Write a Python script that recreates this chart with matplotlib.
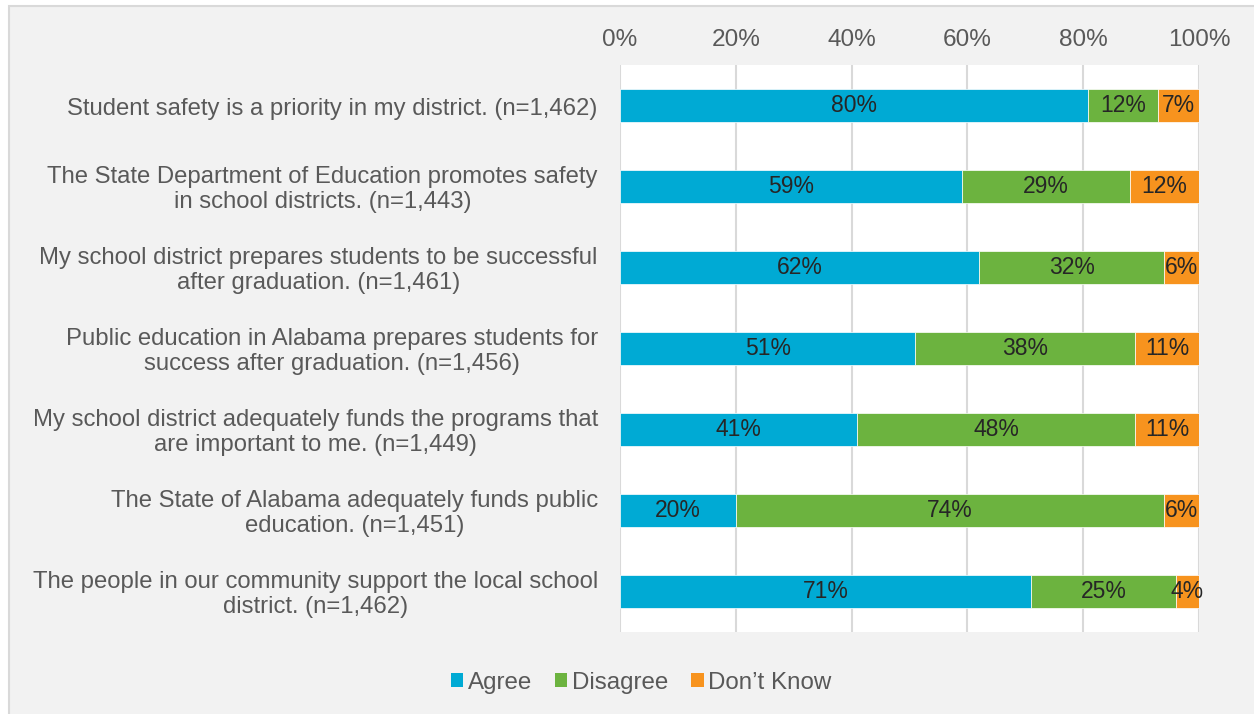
import matplotlib
matplotlib.use("Agg")
import matplotlib.pyplot as plt
import matplotlib.transforms as mtransforms
from matplotlib.patches import Rectangle, Patch
import numpy as np

categories = [
    "Student safety is a priority in my district. (n=1,462)",
    "The State Department of Education promotes safety\nin school districts. (n=1,443)",
    "My school district prepares students to be successful\nafter graduation. (n=1,461)",
    "Public education in Alabama prepares students for\nsuccess after graduation. (n=1,456)",
    "My school district adequately funds the programs that\nare important to me. (n=1,449)",
    "The State of Alabama adequately funds public\neducation. (n=1,451)",
    "The people in our community support the local school\ndistrict. (n=1,462)",
]
series_names = ["Agree", "Disagree", "Don\u2019t Know"]
agree = [80, 59, 62, 51, 41, 20, 71]
disagree = [12, 29, 32, 38, 48, 74, 25]
dont_know = [7, 12, 6, 11, 11, 6, 4]
tick_labels = ["0%", "20%", "40%", "60%", "80%", "100%"]
tick_values = [0, 20, 40, 60, 80, 100]

colors = ["#00AAD4", "#6CB33F", "#F7931E"]
text_gray = "#595959"

plt.rcParams['font.family'] = ['Liberation Sans', 'DejaVu Sans']

W, H = 1254, 714
fig = plt.figure(figsize=(W / 100, H / 100), dpi=100)
fig.patch.set_facecolor("white")
bg = Rectangle((9 / W, -0.01), 1.05, 1 - 6 / H + 0.01, transform=fig.transFigure,
               facecolor="#F2F2F2", edgecolor="#D9D9D9", linewidth=1.5, zorder=-10)
fig.add_artist(bg)

ax = fig.add_axes([620 / W, 1 - 632 / H, 579 / W, 567 / H])
ax.set_zorder(1)
ax.set_facecolor("white")

data = np.array([agree, disagree, dont_know], dtype=float)
shares = data / data.sum(axis=0) * 100
y = np.arange(len(categories))
left = np.zeros(len(categories))
fs_bar = 16.5
fs_cat = 17.2
fs_tick = 17.6
fs_leg = 17.4
for i in range(3):
    bars = ax.barh(y, shares[i], left=left, height=0.4, color=colors[i],
                   edgecolor="white", linewidth=0.5, label=series_names[i], zorder=3)
    for j, b in enumerate(bars):
        ax.text(left[j] + shares[i][j] / 2, y[j], f"{int(data[i][j])}%",
                ha="center", va="center", fontsize=fs_bar, color="#262626", zorder=4)
    left += shares[i]

ax.set_xlim(0, 100)
ax.set_ylim(len(categories) - 0.5, -0.5)
ax.set_xticks(tick_values)
ax.set_xticklabels(tick_labels)
ax.xaxis.tick_top()
ax.tick_params(axis="x", length=0, pad=10, labelsize=fs_tick, labelcolor=text_gray)
ax.set_yticks(y)
ax.set_yticklabels(categories, multialignment="center", linespacing=1.17)
ax.tick_params(axis="y", length=0, pad=16, labelsize=fs_cat, labelcolor=text_gray)
offset = mtransforms.ScaledTranslation(0, -3 / 100, fig.dpi_scale_trans)
for tk in ax.yaxis.get_major_ticks():
    tk.label1.set_verticalalignment("center")
    tk.label1.set_transform(tk.label1.get_transform() + offset)
for s in ax.spines.values():
    s.set_visible(False)
ax.grid(axis="x", color="#D9D9D9", linewidth=1.5, zorder=0)
ax.set_axisbelow(True)

handles = [Patch(facecolor=c, edgecolor="none") for c in colors]
fig.legend(handles, series_names, loc="center", bbox_to_anchor=(641 / W, 1 - 683 / H),
           ncol=3, frameon=False, fontsize=fs_leg, labelcolor=text_gray,
           handlelength=0.52, handleheight=0.52, handletextpad=0.18, columnspacing=0.95)

fig.savefig("out.png", dpi=100, facecolor=fig.get_facecolor())
